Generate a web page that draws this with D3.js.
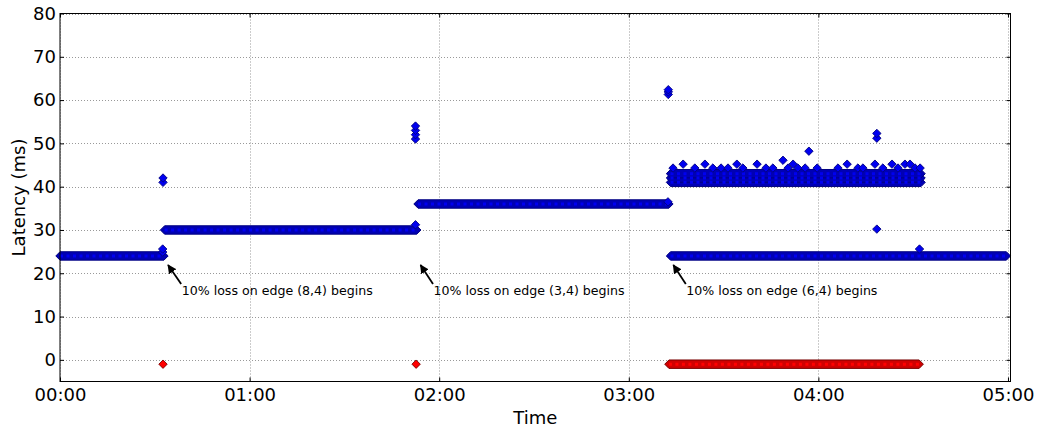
<!DOCTYPE html>
<html>
<head>
<meta charset="utf-8">
<script src="https://cdn.jsdelivr.net/npm/d3@7"></script>
<style>
  html, body { margin: 0; padding: 0; background: #fff; }
  svg { display: block; font-family: "DejaVu Sans", sans-serif; }
</style>
</head>
<body>
<svg id="chart" width="1040" height="430"></svg>
<script>
// ---- data (time in seconds, latency in ms) ----
const xTickValues = [0, 60, 120, 180, 240, 300];
const xTickLabels = ["00:00", "01:00", "02:00", "03:00", "04:00", "05:00"];
const yTickValues = [0, 10, 20, 30, 40, 50, 60, 70, 80];

// dense runs of samples: [start, end, latency]
const blueRuns = [
  [0, 32.9, 24],
  [33.1, 112.9, 30],
  [113.3, 192.7, 36],
  [193.2, 272.5, 41],
  [193.2, 272.5, 42],
  [193.2, 272.5, 43],
  [193.2, 299.5, 24]
];
const redRuns = [
  [192.7, 271.9, -1]
];

// isolated samples: [time, latency]
const blueOutliers = [
  [32.5, 24.9], [32.5, 25.6], [32.6, 41], [32.6, 42],
  [112.5, 31.2], [112.5, 51], [112.5, 52], [112.5, 53], [112.5, 54],
  [192.4, 36.5], [192.5, 61.3], [192.5, 61.9], [192.5, 62.4],
  [197.2, 45.2], [204.1, 45.2], [214.2, 45.2], [220.6, 45.2], [232.0, 45.2],
  [249.1, 45.2], [257.9, 45.2], [263.3, 45.2], [267.4, 45.2], [269.0, 45.2],
  [194.0, 44.3], [200.9, 44.3], [206.6, 44.3], [209.2, 44.3], [211.4, 44.3],
  [216.1, 44.3], [223.4, 44.3], [225.6, 44.3], [230.4, 44.3], [233.5, 44.3],
  [235.8, 44.3], [239.6, 44.3], [246.2, 44.3], [252.5, 44.3], [254.1, 44.3],
  [260.4, 44.3], [265.2, 44.3], [270.6, 44.3], [272.2, 44.3],
  [228.8, 46.1], [237.0, 48.2],
  [258.5, 30.2], [258.5, 51.2], [258.5, 52.3],
  [272.0, 25.6]
];
const redOutliers = [
  [32.6, -1], [112.7, -1]
];

// annotations: arrow head point, text anchor point, label
const annotHeads = [[34.2, 21.9], [114.1, 21.9], [194.1, 21.9]];
const annotTexts = [[38.5, 15], [118.2, 15], [198.2, 15]];
const annotLabels = [
  "10% loss on edge (8,4) begins",
  "10% loss on edge (3,4) begins",
  "10% loss on edge (6,4) begins"
];

// ---- chart ----
const svg = d3.select("#chart");
const L = 60, R = 1010.5, T = 13.5, B = 381.5;
const x = d3.scaleLinear().domain([0, 300.8]).range([L, R]);
const y = d3.scaleLinear().domain([-5, 80]).range([B, T]);

// grid
const grid = svg.append("g");
grid.selectAll(".gx").data(xTickValues).join("line")
  .attr("x1", d => Math.round(x(d)) + 0.5).attr("x2", d => Math.round(x(d)) + 0.5)
  .attr("y1", T).attr("y2", B)
  .attr("stroke", "#000").attr("stroke-opacity", 0.4)
  .attr("stroke-width", 1).attr("stroke-dasharray", "1,2");
grid.selectAll(".gy").data(yTickValues).join("line")
  .attr("x1", L).attr("x2", R)
  .attr("y1", d => Math.round(y(d)) + 0.5).attr("y2", d => Math.round(y(d)) + 0.5)
  .attr("stroke", "#000").attr("stroke-opacity", 0.4)
  .attr("stroke-width", 1).attr("stroke-dasharray", "1,2");

const r = 4.2;
function runPath(d) {
  const x0 = x(d[0]), x1 = x(d[1]), yy = y(d[2]);
  return `M${x0 - r},${yy}L${x0},${yy - r}L${x1},${yy - r}L${x1 + r},${yy}L${x1},${yy + r}L${x0},${yy + r}Z`;
}
function diamond(d) {
  const cx = x(d[0]), cy = y(d[1]);
  return `M${cx - r},${cy}L${cx},${cy - r}L${cx + r},${cy}L${cx},${cy + r}Z`;
}

function drawSeries(runs, pts, fill, edge, dots) {
  const g = svg.append("g");
  g.selectAll("path.run").data(runs).join("path")
    .attr("d", runPath).attr("fill", fill).attr("stroke", edge).attr("stroke-width", 1);
  g.selectAll("line.tex").data(runs).join("line")
    .attr("x1", d => x(d[0])).attr("x2", d => x(d[1]))
    .attr("y1", d => y(d[2])).attr("y2", d => y(d[2]))
    .attr("stroke", dots).attr("stroke-width", 3).attr("stroke-dasharray", "3,3.5");
  g.selectAll("path.pt").data(pts).join("path")
    .attr("d", diamond).attr("fill", dots).attr("stroke", edge).attr("stroke-width", 0.9);
}
drawSeries(blueRuns, blueOutliers, "#0000b4", "#000080", "#0000f0");
drawSeries(redRuns, redOutliers, "#d00000", "#7a0000", "#ff0000");

// annotations
svg.append("defs").append("marker")
  .attr("id", "ah").attr("viewBox", "0 0 10 10").attr("refX", 9).attr("refY", 5)
  .attr("markerWidth", 5).attr("markerHeight", 5).attr("orient", "auto")
  .append("path").attr("d", "M0,0L10,5L0,10Z").attr("fill", "#000");
const ann = svg.append("g");
annotLabels.forEach((lab, i) => {
  const hx = x(annotHeads[i][0]), hy = y(annotHeads[i][1]);
  const tx = x(annotTexts[i][0]), ty = y(annotTexts[i][1]);
  ann.append("line")
    .attr("x1", tx - 0.5).attr("y1", ty - 11)
    .attr("x2", hx).attr("y2", hy)
    .attr("stroke", "#000").attr("stroke-width", 1.8).attr("marker-end", "url(#ah)");
  ann.append("text").attr("x", tx).attr("y", ty)
    .attr("font-size", 12.6).attr("fill", "#000").text(lab);
});

// frame
svg.append("rect").attr("x", L).attr("y", T).attr("width", R - L).attr("height", B - T)
  .attr("fill", "none").attr("stroke", "#000").attr("stroke-width", 1);

// axes
const fmtX = (d, i) => xTickLabels[i];
const ax = svg.append("g").attr("transform", `translate(0,${B})`)
  .call(d3.axisBottom(x).tickValues(xTickValues).tickFormat(fmtX).tickSizeInner(-4).tickSizeOuter(0).tickPadding(7));
const ay = svg.append("g").attr("transform", `translate(${L},0)`)
  .call(d3.axisLeft(y).tickValues(yTickValues).tickSizeInner(-4).tickSizeOuter(0).tickPadding(4));
const at = svg.append("g").attr("transform", `translate(0,${T})`)
  .call(d3.axisTop(x).tickValues(xTickValues).tickFormat("").tickSizeInner(-4).tickSizeOuter(0));
const ar = svg.append("g").attr("transform", `translate(${R},0)`)
  .call(d3.axisRight(y).tickValues(yTickValues).tickFormat("").tickSizeInner(-4).tickSizeOuter(0));
[ax, ay, at, ar].forEach(g => {
  g.select(".domain").remove();
  g.selectAll("text").attr("font-family", "DejaVu Sans").attr("font-size", 18).attr("fill", "#000");
  g.selectAll(".tick line").attr("stroke", "#000");
});

// axis titles
svg.append("text").attr("x", (L + R) / 2).attr("y", 424).attr("text-anchor", "middle")
  .attr("font-size", 18).text("Time");
svg.append("text").attr("transform", `translate(25,${(T + B) / 2}) rotate(-90)`)
  .attr("text-anchor", "middle").attr("font-size", 18).text("Latency (ms)");
</script>
</body>
</html>
